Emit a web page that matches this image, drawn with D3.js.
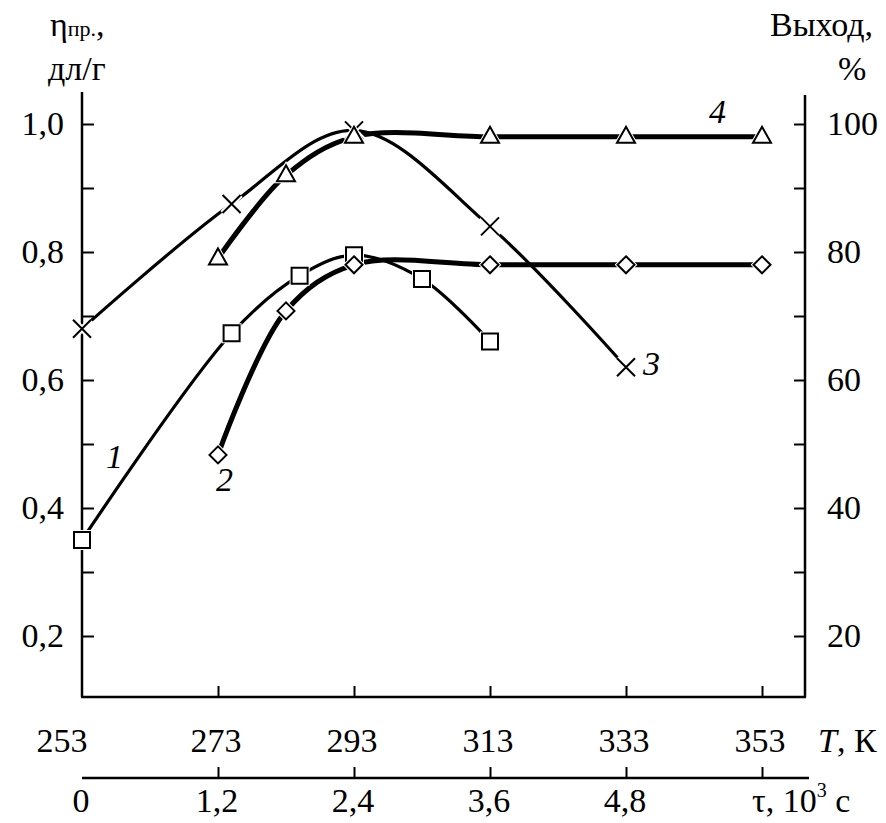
<!DOCTYPE html>
<html>
<head>
<meta charset="utf-8">
<script src="https://cdn.jsdelivr.net/npm/d3@7"></script>
<style>
  body { margin: 0; background: #fff; }
</style>
</head>
<body>
<svg id="chart" width="886" height="823" font-family="Liberation Serif"></svg>
<script>
// temperature ticks (lower axis) and time ticks (second axis)
var tempTicks = [253, 273, 293, 313, 333, 353];
var timeTicks = [0, 1.2, 2.4, 3.6, 4.8];
var etaTicks = [0.2, 0.4, 0.6, 0.8, 1.0];
var yieldTicks = [20, 40, 60, 80, 100];

// curves, x in K, y in dl/g (right axis = y*100 %)
var curve1 = [[253, 0.35], [275, 0.673], [285, 0.763], [293, 0.795], [303, 0.758], [313, 0.66]];
var curve2 = [[273, 0.483], [283, 0.708], [293, 0.78], [313, 0.78], [333, 0.78], [353, 0.78]];
var curve3 = [[253, 0.68], [275, 0.875], [293, 0.99], [313, 0.84], [333, 0.62]];
var curve4 = [[273, 0.79], [283, 0.92], [293, 0.98], [313, 0.98], [333, 0.98], [353, 0.98]];

(function() {
    var series = [
        { data: curve1, marker: 'square', width: 3.2 },
        { data: curve2, marker: 'diamond', width: 5 },
        { data: curve3, marker: 'cross', width: 3.2 },
        { data: curve4, marker: 'triangle', width: 5 }
    ];

    var serif = 'Liberation Serif';
    var fs = 34;

    var svg = d3.select('#chart');
    var mLeft = 82, mRight = 805, mTop = 92, mBottom = 697;

    var x = d3.scaleLinear().domain([253, 353]).range([mLeft, 762]);
    var y = d3.scaleLinear().domain([1.0, 0.2]).range([124, 636]);
    var yRight = d3.scaleLinear().domain([100, 20]).range([124, 636]);
    // time axis shares positions with temperature
    var t = d3.scaleLinear().domain([0, 1.2]).range([x(253), x(273)]);

    var comma = d3.formatLocale({ decimal: ',', thousands: ' ', grouping: [3], currency: ['', ''] }).format('.1f');

    function addText(parent, txt, px, py, anchor) {
        return parent.append('text')
            .attr('x', px).attr('y', py)
            .attr('font-family', serif).attr('font-size', fs)
            .attr('text-anchor', anchor || 'start')
            .text(txt);
    }

    // frame lines
    function frameLine(x1, y1, x2, y2) {
        svg.append('line').attr('x1', x1).attr('y1', y1).attr('x2', x2).attr('y2', y2)
            .attr('stroke', '#000').attr('stroke-width', 2.5);
    }
    frameLine(mLeft, mTop, mLeft, mBottom);
    frameLine(mRight, 95, mRight, mBottom);
    frameLine(mLeft - 1, mBottom, mRight + 1, mBottom);
    frameLine(mLeft, 778, mRight + 4, 778);

    // left ticks (every 0.1), pointing inward
    var leftAxis = svg.append('g').attr('transform', 'translate(' + mLeft + ',0)')
        .call(d3.axisLeft(y).tickValues(d3.range(2, 11).map(d => d / 10)).tickSize(-12).tickFormat(''));
    leftAxis.select('.domain').remove();
    leftAxis.selectAll('line').attr('stroke-width', 2);

    etaTicks.forEach(d => addText(svg, comma(d), 64, y(d) + 11, 'end'));

    // right ticks (every 10 %)
    var rightAxis = svg.append('g').attr('transform', 'translate(' + mRight + ',0)')
        .call(d3.axisRight(yRight).tickValues(d3.range(20, 101, 10)).tickSize(-11).tickFormat(''));
    rightAxis.select('.domain').remove();
    rightAxis.selectAll('line').attr('stroke-width', 2);

    yieldTicks.forEach(d => addText(svg, String(d), 827, yRight(d) + 11));

    // bottom (temperature) ticks
    var tAxis = svg.append('g').attr('transform', 'translate(0,' + mBottom + ')')
        .call(d3.axisBottom(x).tickValues(tempTicks.slice(1)).tickSize(-11).tickFormat(''));
    tAxis.select('.domain').remove();
    tAxis.selectAll('line').attr('stroke-width', 2);

    // first label sits left of the corner
    tempTicks.forEach((d, i) => addText(svg, String(d), i === 0 ? x(d) - 20 : x(d) - 2, 752, 'middle'));
    var tk = addText(svg, '', 818, 752);
    tk.append('tspan').attr('font-style', 'italic').text('T');
    tk.append('tspan').text(', К');

    // time axis
    var timeAxis = svg.append('g').attr('transform', 'translate(0,778)')
        .call(d3.axisBottom(t).tickValues(timeTicks.slice(1).concat([6.0])).tickSize(-11).tickFormat(''));
    timeAxis.select('.domain').remove();
    timeAxis.selectAll('line').attr('stroke-width', 2);

    timeTicks.forEach(d => addText(svg, d === 0 ? '0' : comma(d), t(d) - 1, 812, 'middle'));
    var tau = addText(svg, '', 752, 812);
    tau.append('tspan').text('τ, 10');
    tau.append('tspan').attr('font-size', 20).attr('dy', -15).text('3');
    tau.append('tspan').attr('dy', 15).text(' с');

    // axis titles
    var eta = addText(svg, '', 50, 36);
    eta.append('tspan').text('η');
    eta.append('tspan').attr('font-size', 22).text('пр.');
    eta.append('tspan').text(',');
    addText(svg, 'дл/г', 48, 80);
    addText(svg, 'Выход,', 770, 36);
    addText(svg, '%', 838, 80);

    // curves
    var line = d3.line().x(d => x(d[0])).y(d => y(d[1])).curve(d3.curveCatmullRom.alpha(0.5));

    series.forEach(function(s) {
        svg.append('path').datum(s.data).attr('d', line)
            .attr('fill', 'none').attr('stroke', '#000').attr('stroke-width', s.width)
            .attr('stroke-linejoin', 'round');
    });

    // markers
    function markerPath(type) {
        if (type === 'square') return 'M-8,-8H8V8H-8Z';
        if (type === 'diamond') return 'M0,-8.5L8.5,0L0,8.5L-8.5,0Z';
        if (type === 'triangle') return 'M0,-10L9,6H-9Z';
        return 'M-9,-9L9,9M9,-9L-9,9';
    }

    series.forEach(function(s) {
        var pts = svg.append('g').selectAll('g').data(s.data).join('g')
            .attr('transform', d => 'translate(' + x(d[0]) + ',' + y(d[1]) + ')');
        if (s.marker === 'cross') {
            pts.append('path').attr('d', markerPath('cross'))
                .attr('stroke', '#fff').attr('stroke-width', 6).attr('fill', 'none');
            pts.append('path').attr('d', markerPath('cross'))
                .attr('stroke', '#000').attr('stroke-width', 2).attr('fill', 'none');
        } else {
            pts.append('path').attr('d', markerPath(s.marker))
                .attr('fill', '#fff').attr('stroke', '#fff').attr('stroke-width', 4);
            pts.append('path').attr('d', markerPath(s.marker))
                .attr('fill', '#fff').attr('stroke', '#000').attr('stroke-width', 2);
        }
    });

    // curve labels
    addText(svg, '1', 106, 468).attr('font-style', 'italic');
    addText(svg, '2', 216, 491).attr('font-style', 'italic');
    addText(svg, '3', 643, 375).attr('font-style', 'italic');
    addText(svg, '4', 709, 123).attr('font-style', 'italic');
})();
</script>
</body>
</html>
